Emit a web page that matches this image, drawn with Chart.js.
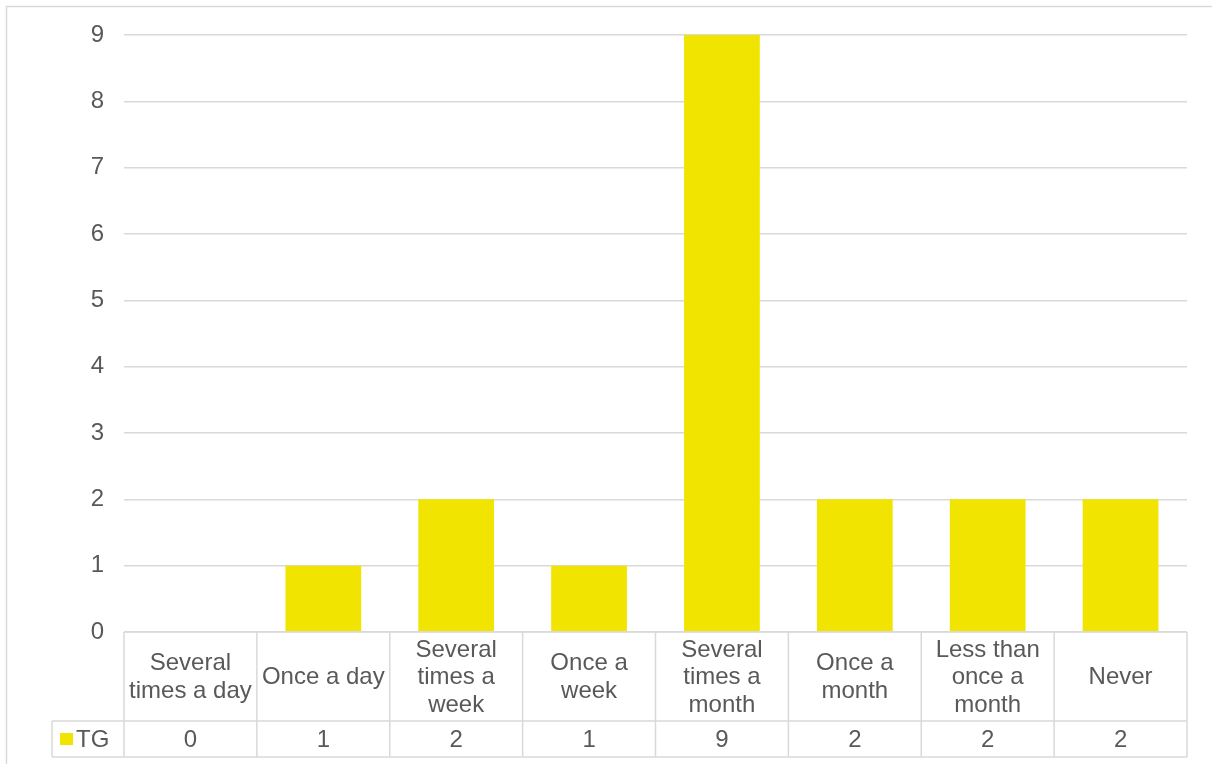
<!DOCTYPE html>
<html>
<head>
<meta charset="utf-8">
<script src="https://cdn.jsdelivr.net/npm/chart.js@4"></script>
<style>
  html, body { margin: 0; padding: 0; background: #fff; }
  #wrap { width: 1212px; height: 764px; }
</style>
</head>
<body>
<div id="wrap"><canvas id="c" width="1212" height="764"></canvas></div>
<script>
// Frequency categories (multi-line labels as shown in the table header)
const categories = [
  ['Several', 'times a day'],
  ['Once a day'],
  ['Several', 'times a', 'week'],
  ['Once a', 'week'],
  ['Several', 'times a', 'month'],
  ['Once a', 'month'],
  ['Less than', 'once a', 'month'],
  ['Never']
];
const seriesName = 'TG';
const tgValues = [0, 1, 2, 1, 9, 2, 2, 2];
const yTicks = [0, 1, 2, 3, 4, 5, 6, 7, 8, 9];

const TEXT = '#595959';
const LINE = '#D9D9D9';
const BAR = '#F0E400';
const FONT = '"Liberation Sans", Arial, sans-serif';

// Frame and white background behind everything
const framePlugin = {
  id: 'frame',
  beforeDraw(chart) {
    const ctx = chart.ctx;
    ctx.save();
    ctx.fillStyle = '#fff';
    ctx.fillRect(0, 0, chart.width, chart.height);
    ctx.strokeStyle = LINE;
    ctx.lineWidth = 1.5;
    ctx.strokeRect(6.5, 6.5, chart.width + 20, chart.height + 20);
    ctx.restore();
  }
};

// Data table under the plot: category header row + series row with legend key
const dataTablePlugin = {
  id: 'dataTable',
  afterDraw(chart) {
    const ctx = chart.ctx;
    const x = chart.scales.x;
    const area = chart.chartArea;
    const n = chart.data.labels.length;
    const step = (x.right - x.left) / n;
    const top = area.bottom;
    const headBottom = top + 89;
    const rowBottom = headBottom + 36;
    const keyLeft = 52;
    const ds = chart.data.datasets[0];

    ctx.save();
    ctx.strokeStyle = LINE;
    ctx.lineWidth = 1.5;
    ctx.beginPath();
    // horizontal rules
    ctx.moveTo(x.left, top); ctx.lineTo(x.right, top);
    ctx.moveTo(keyLeft, headBottom); ctx.lineTo(x.right, headBottom);
    ctx.moveTo(keyLeft, rowBottom); ctx.lineTo(x.right, rowBottom);
    // vertical rules
    ctx.moveTo(keyLeft, headBottom); ctx.lineTo(keyLeft, rowBottom);
    for (let i = 0; i <= n; i++) {
      const px = x.left + i * step;
      ctx.moveTo(px, top); ctx.lineTo(px, rowBottom);
    }
    ctx.stroke();

    ctx.fillStyle = TEXT;
    ctx.font = '24px ' + FONT;
    ctx.textAlign = 'center';
    ctx.textBaseline = 'middle';
    const lh = 27.5;
    const headMid = (top + headBottom) / 2;
    const rowMid = (headBottom + rowBottom) / 2;
    chart.data.labels.forEach((lab, i) => {
      const cx = x.getPixelForValue(i);
      const lines = Array.isArray(lab) ? lab : [lab];
      const y0 = headMid - (lines.length - 1) * lh / 2;
      lines.forEach((t, j) => ctx.fillText(t, cx, y0 + j * lh + 1));
      ctx.fillText(String(ds.data[i]), cx, rowMid + 1);
    });

    // legend key
    ctx.fillStyle = ds.backgroundColor;
    ctx.fillRect(60, rowMid - 6, 13, 12);
    ctx.fillStyle = TEXT;
    ctx.textAlign = 'left';
    ctx.fillText(ds.label, 76, rowMid + 1);
    ctx.restore();
  }
};

new Chart(document.getElementById('c'), {
  type: 'bar',
  data: {
    labels: categories,
    datasets: [{
      label: seriesName,
      data: tgValues,
      backgroundColor: BAR,
      borderWidth: 0,
      categoryPercentage: 1,
      barPercentage: 0.57
    }]
  },
  options: {
    responsive: false,
    animation: false,
    layout: { padding: { top: 35, right: 25, left: 0, bottom: 0 } },
    plugins: {
      legend: { display: false },
      tooltip: { enabled: false }
    },
    scales: {
      x: {
        grid: { display: false },
        border: { display: false },
        ticks: { display: false },
        afterFit(scale) { scale.height = 132; }
      },
      y: {
        min: 0,
        max: 9,
        afterBuildTicks(scale) { scale.ticks = yTicks.map(v => ({ value: v })); },
        afterFit(scale) { scale.width = 124; },
        grid: { color: LINE, lineWidth: 1.5, drawTicks: false },
        border: { display: false },
        ticks: {
          padding: 20,
          color: TEXT,
          font: { family: FONT, size: 24 }
        }
      }
    }
  },
  plugins: [framePlugin, dataTablePlugin]
});
</script>
</body>
</html>
